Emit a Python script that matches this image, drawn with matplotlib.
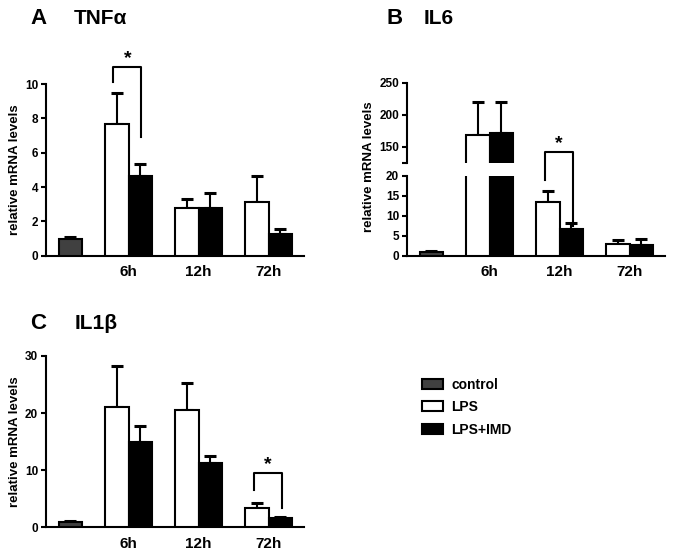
import matplotlib
matplotlib.use("Agg")
from matplotlib import pyplot as plt
from matplotlib.patches import Patch

plt.rcParams['font.family'] = ['Liberation Sans', 'DejaVu Sans']
plt.rcParams['font.weight'] = 'bold'

times = ['6h', '12h', '72h']

tnf_control, tnf_control_err = 1.0, 0.1
tnf_lps = [7.7, 2.8, 3.15]
tnf_lps_err = [1.8, 0.52, 1.5]
tnf_imd = [4.65, 2.75, 1.28]
tnf_imd_err = [0.72, 0.88, 0.26]

il6_control, il6_control_err = 1.0, 0.2
il6_lps = [168, 13.4, 3.0]
il6_lps_err = [52, 2.7, 0.9]
il6_imd = [172, 6.7, 2.6]
il6_imd_err = [48, 1.4, 1.5]

il1b_control, il1b_control_err = 1.0, 0.1
il1b_lps = [21.0, 20.6, 3.4]
il1b_lps_err = [7.2, 4.6, 0.9]
il1b_imd = [14.9, 11.2, 1.6]
il1b_imd_err = [2.9, 1.2, 0.2]

CTRL = '#404040'
LW = 1.5
# bar slots: control, gap, LPS, IMD, gap, LPS, IMD, gap, LPS, IMD
ctrl_x = 0
lps_x = [2, 5, 8]
imd_x = [3, 6, 9]
grp_x = [2.5, 5.5, 8.5]


def draw_bars(ax, ctrl, ctrl_err, lps, lps_err, imd, imd_err):
    ax.bar(ctrl_x, ctrl, width=1.0, color=CTRL, edgecolor='black', linewidth=LW, zorder=3)
    ax.bar(lps_x, lps, width=1.0, color='white', edgecolor='black', linewidth=LW, zorder=3)
    ax.bar(imd_x, imd, width=1.0, color='black', edgecolor='black', linewidth=LW, zorder=3)
    kw = dict(fmt='none', ecolor='black', elinewidth=LW, capsize=4, capthick=2.2, zorder=2)
    ax.errorbar([ctrl_x], [ctrl], yerr=[[0], [ctrl_err]], **kw)
    ax.errorbar(lps_x, lps, yerr=[[0] * 3, lps_err], **kw)
    ax.errorbar(imd_x, imd, yerr=[[0] * 3, imd_err], **kw)


def style_axes(ax, xticks=True):
    ax.set_xlim(-1.05, 10.0)
    ax.patch.set_visible(False)
    for s in ['top', 'right']:
        ax.spines[s].set_visible(False)
    ax.spines['left'].set_linewidth(LW)
    ax.spines['bottom'].set_linewidth(LW)
    ax.tick_params(axis='y', direction='out', length=3.5, width=LW, labelsize=8.5, pad=2)
    if xticks:
        ax.set_xticks(grp_x)
        ax.set_xticklabels(times, fontsize=11, fontweight='bold')
        ax.tick_params(axis='x', length=0, pad=7)
    else:
        ax.set_xticks([])


def bracket(ax, i, top, left_bot, right_bot):
    xl = lps_x[i] - 0.15
    xr = imd_x[i] + 0.05
    ax.plot([xl, xl, xr, xr], [left_bot, top, top, right_bot], color='black',
            linewidth=LW, clip_on=False, zorder=6)
    ax.text((xl + xr) / 2, top, '*', ha='center', va='bottom', fontsize=14,
            fontweight='bold', clip_on=False, zorder=6)


fig = plt.figure(figsize=(6.74, 5.57), dpi=100)

# Panel A
axA = fig.add_axes([0.0678, 0.541, 0.383, 0.308])
draw_bars(axA, tnf_control, tnf_control_err, tnf_lps, tnf_lps_err, tnf_imd, tnf_imd_err)
style_axes(axA)
axA.set_ylim(0, 10)
axA.set_yticks([0, 2, 4, 6, 8, 10])
axA.set_ylabel('relative mRNA levels', fontsize=9.5, fontweight='bold', labelpad=3)
bracket(axA, 0, 11.0, 10.15, 6.9)

# Panel B (broken axis)
axBu = fig.add_axes([0.6034, 0.7079, 0.383, 0.1431])
axBl = fig.add_axes([0.6034, 0.541, 0.383, 0.1436])
axBl.set_zorder(2)
for ax in (axBl, axBu):
    draw_bars(ax, il6_control, il6_control_err, il6_lps, il6_lps_err, il6_imd, il6_imd_err)
style_axes(axBl)
style_axes(axBu, xticks=False)
axBu.spines['bottom'].set_visible(False)
axBl.set_ylim(0, 20)
axBl.set_yticks([0, 5, 10, 15, 20])
axBu.set_ylim(125, 250)
axBu.set_yticks([125, 150, 200, 250])
axBu.set_yticklabels(['', '150', '200', '250'])
fig.text(0.547, 0.70, 'relative mRNA levels', rotation=90, ha='center', va='center',
         fontsize=9.5, fontweight='bold')
bracket(axBl, 1, 26.0, 18.9, 7.3)

# Panel C
axC = fig.add_axes([0.0678, 0.0533, 0.383, 0.3077])
draw_bars(axC, il1b_control, il1b_control_err, il1b_lps, il1b_lps_err, il1b_imd, il1b_imd_err)
style_axes(axC)
axC.set_ylim(0, 30)
axC.set_yticks([0, 10, 20, 30])
axC.set_ylabel('relative mRNA levels', fontsize=9.5, fontweight='bold', labelpad=3)
bracket(axC, 2, 9.45, 6.5, 3.3)

# Panel titles
fig.text(0.045, 0.967, 'A', fontsize=16, fontweight='bold', va='center', ha='left')
fig.text(0.110, 0.967, 'TNF\u03b1', fontsize=15, fontweight='bold', va='center', ha='left')
fig.text(0.574, 0.967, 'B', fontsize=16, fontweight='bold', va='center', ha='left')
fig.text(0.628, 0.967, 'IL6', fontsize=15, fontweight='bold', va='center', ha='left')
fig.text(0.045, 0.420, 'C', fontsize=16, fontweight='bold', va='center', ha='left')
fig.text(0.110, 0.420, 'IL1\u03b2', fontsize=15, fontweight='bold', va='center', ha='left')

# Legend
handles = [Patch(facecolor=CTRL, edgecolor='black', linewidth=LW, label='control'),
           Patch(facecolor='white', edgecolor='black', linewidth=LW, label='LPS'),
           Patch(facecolor='black', edgecolor='black', linewidth=LW, label='LPS+IMD')]
fig.legend(handles=handles, loc='upper left', bbox_to_anchor=(0.608, 0.344),
           frameon=False, prop={'size': 10, 'weight': 'bold'},
           handlelength=1.5, handleheight=0.75, labelspacing=0.6, handletextpad=0.6)

plt.savefig('out.png', dpi=100)
